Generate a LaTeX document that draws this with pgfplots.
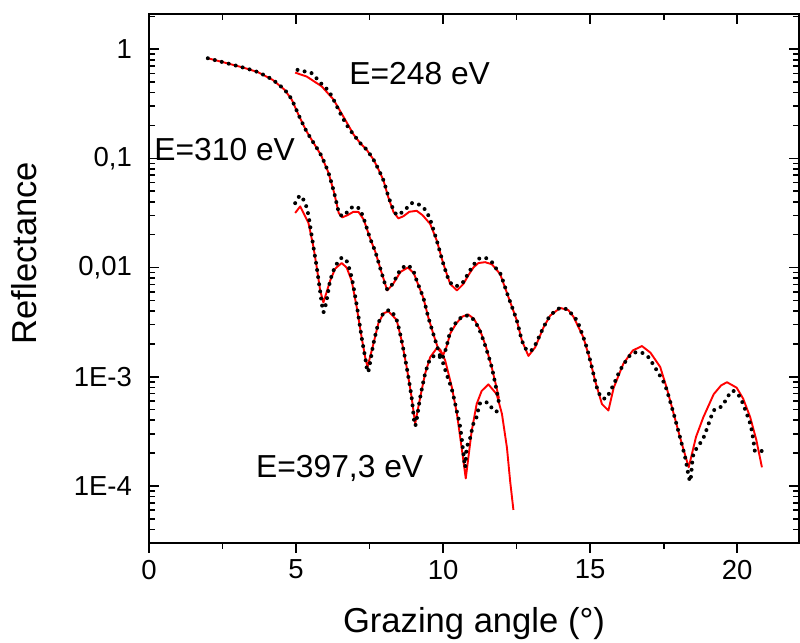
\documentclass[border=0pt]{standalone}
\usepackage{fontspec}
\setmainfont{Liberation Sans}
\usepackage{pgfplots}
\pgfplotsset{compat=1.18}

\pgfplotsset{
  refaxis/.style={
    width=325pt, height=264.5pt, scale only axis,
    xmin=0, xmax=22.1, ymin=3e-5, ymax=2.1,
    axis line style={line width=0.9pt},
    tick style={line width=0.8pt, black},
    major tick length=5pt, minor tick length=3pt,
    xtick={0,5,10,15,20}, minor x tick num=1,
    ytick={1e-4,1e-3,0.01,0.1,1},
    minor ytick={4e-5,5e-5,6e-5,7e-5,8e-5,9e-5,
      2e-4,3e-4,4e-4,5e-4,6e-4,7e-4,8e-4,9e-4,
      2e-3,3e-3,4e-3,5e-3,6e-3,7e-3,8e-3,9e-3,
      0.02,0.03,0.04,0.05,0.06,0.07,0.08,0.09,
      0.2,0.3,0.4,0.5,0.6,0.7,0.8,0.9,2},
  },
  expdots/.style={black, line width=2pt, line cap=round,
    dash pattern=on 0pt off 3.6pt, smooth, tension=0.4},
  fitline/.style={red, line width=0.95pt, line join=round},
}

\begin{document}
\begin{tikzpicture}
\begin{semilogyaxis}[refaxis,
  xtick pos=left, ytick pos=left, tick align=outside,
  y tick style={draw=none},
  xticklabels={0,5,10,15,20},
  yticklabels={1E-4,1E-3,{0,01},{0,1},1},
  ticklabel style={font=\fontsize{13.75}{16}\selectfont},
  xlabel={Grazing angle (°)},
  xlabel style={at={(axis description cs:0.5,-0.1701)}, anchor=base,
    inner sep=0pt, font=\fontsize{17.3}{20}\selectfont},
  ylabel={Reflectance},
  ylabel style={at={(axis description cs:-0.1723,0.548)}, anchor=base,
    inner sep=0pt, font=\fontsize{17.3}{20}\selectfont},
]
% E = 310 eV, fit
\addplot[fitline] table {
2.00 0.826
2.60 0.750
3.20 0.679
3.70 0.617
4.20 0.525
4.60 0.427
4.85 0.347
5.10 0.245
5.35 0.178
5.60 0.138
5.85 0.107
6.10 0.0741
6.30 0.0479
6.45 0.0316
6.57 0.0288
6.75 0.0302
6.95 0.0324
7.12 0.0324
7.30 0.0275
7.50 0.0191
7.70 0.0138
7.90 0.00912
8.10 0.00617
8.30 0.00708
8.55 0.00912
8.80 0.0100
9.00 0.00891
9.10 0.00759
9.33 0.00525
9.50 0.00347
9.67 0.00245
9.84 0.00178
10.00 0.00158
10.10 0.00182
10.25 0.00251
10.45 0.00309
10.65 0.00355
10.85 0.00372
11.05 0.00339
11.25 0.00269
11.45 0.00191
11.65 0.00123
11.80 0.000832
11.90 0.000631
};
% E = 248 eV, fit
\addplot[fitline] table {
4.97 0.610
5.36 0.562
5.87 0.457
6.27 0.347
6.72 0.214
6.95 0.166
7.18 0.138
7.40 0.120
7.63 0.0977
7.80 0.0794
7.97 0.0631
8.14 0.0437
8.31 0.0324
8.48 0.0282
8.65 0.0295
8.85 0.0324
9.10 0.0331
9.30 0.0302
9.56 0.0251
9.78 0.0178
10.00 0.0110
10.24 0.00708
10.47 0.00617
10.69 0.00708
10.86 0.00851
11.03 0.0100
11.20 0.0110
11.43 0.0112
11.66 0.0107
11.94 0.00871
12.22 0.00537
12.50 0.00331
12.68 0.00214
12.90 0.00155
13.13 0.00186
13.41 0.00282
13.64 0.00363
13.98 0.00427
14.26 0.00407
14.43 0.00355
14.77 0.00229
15.00 0.00141
15.17 0.000912
15.40 0.000562
15.62 0.000490
15.80 0.000794
16.13 0.00132
16.45 0.00174
16.76 0.00191
17.05 0.00166
17.38 0.00123
17.60 0.000794
17.84 0.000457
18.06 0.000275
18.35 0.000148
18.60 0.000282
18.85 0.000427
19.20 0.000692
19.45 0.000832
19.65 0.000891
19.98 0.000794
20.20 0.000631
20.44 0.000427
20.65 0.000263
20.84 0.000148
};
% E = 397.3 eV, fit
\addplot[fitline] table {
4.97 0.0316
5.14 0.0363
5.42 0.0257
5.59 0.0155
5.70 0.0102
5.82 0.00617
5.93 0.00479
6.16 0.00759
6.33 0.00977
6.55 0.0110
6.72 0.0100
6.89 0.00759
7.06 0.00437
7.23 0.00229
7.35 0.00151
7.43 0.00123
7.63 0.00200
7.80 0.00309
7.97 0.00380
8.14 0.00398
8.42 0.00331
8.59 0.00214
8.76 0.00123
8.93 0.000646
9.05 0.000372
9.22 0.000646
9.39 0.00107
9.56 0.00151
9.78 0.00182
9.90 0.00178
10.07 0.00141
10.30 0.000794
10.47 0.000457
10.63 0.000224
10.77 0.000117
10.97 0.000316
11.14 0.000562
11.31 0.000741
11.54 0.000851
11.82 0.000692
12.00 0.000457
12.17 0.000224
12.28 0.000110
12.39 0.0000603
};
% E = 310 eV, measured
\addplot[expdots] table {
2.00 0.826
2.60 0.750
3.20 0.679
3.70 0.617
4.20 0.525
4.60 0.427
4.85 0.347
5.10 0.245
5.35 0.178
5.60 0.138
5.85 0.107
6.10 0.0741
6.30 0.0479
6.45 0.0324
6.58 0.0295
6.75 0.0324
6.95 0.0363
7.15 0.0347
7.30 0.0282
7.50 0.0191
7.70 0.0138
7.90 0.00912
8.10 0.00631
8.30 0.00724
8.55 0.00955
8.80 0.0105
9.00 0.00912
9.10 0.00759
9.33 0.00525
9.50 0.00347
9.67 0.00245
9.84 0.00174
9.95 0.00145
10.10 0.00182
10.25 0.00263
10.45 0.00316
10.65 0.00355
10.85 0.00363
11.05 0.00331
11.25 0.00263
11.45 0.00186
11.65 0.00123
11.80 0.000794
11.90 0.000575
};
% E = 248 eV, measured
\addplot[expdots] table {
5.05 0.646
5.31 0.624
5.53 0.603
5.87 0.479
6.10 0.417
6.27 0.347
6.47 0.269
6.61 0.229
6.78 0.191
6.95 0.166
7.18 0.138
7.40 0.120
7.63 0.0977
7.80 0.0794
7.97 0.0631
8.14 0.0447
8.31 0.0339
8.45 0.0302
8.71 0.0339
8.93 0.0389
9.16 0.0380
9.39 0.0339
9.56 0.0275
9.78 0.0178
10.00 0.0110
10.20 0.00759
10.38 0.00676
10.55 0.00692
10.69 0.00741
10.86 0.00891
11.03 0.0105
11.20 0.0120
11.43 0.0123
11.66 0.0112
11.83 0.00955
11.94 0.00891
12.22 0.00537
12.50 0.00331
12.68 0.00214
12.85 0.00174
13.00 0.00174
13.13 0.00195
13.41 0.00282
13.64 0.00363
13.98 0.00427
14.26 0.00407
14.43 0.00355
14.55 0.00331
14.77 0.00229
14.88 0.00186
15.00 0.00141
15.17 0.000912
15.23 0.000794
15.37 0.000646
15.50 0.000631
15.57 0.000646
15.80 0.000851
16.02 0.00115
16.30 0.00151
16.47 0.00166
16.76 0.00166
16.98 0.00151
17.26 0.00115
17.55 0.000832
17.84 0.000457
18.06 0.000275
18.23 0.000182
18.40 0.000110
18.51 0.000195
18.85 0.000275
19.20 0.000490
19.48 0.000537
19.82 0.000741
20.10 0.000646
20.44 0.000372
20.56 0.000251
20.60 0.000209
20.84 0.000209
};
% E = 397.3 eV, measured
\addplot[expdots] table {
4.97 0.0389
5.14 0.0457
5.31 0.0389
5.42 0.0302
5.59 0.0155
5.70 0.0102
5.82 0.00603
5.93 0.00389
6.04 0.00501
6.16 0.00759
6.33 0.0102
6.55 0.0123
6.72 0.0115
6.89 0.00813
7.06 0.00457
7.23 0.00229
7.35 0.00151
7.45 0.00110
7.63 0.00200
7.80 0.00309
7.97 0.00380
8.20 0.00407
8.42 0.00331
8.59 0.00214
8.76 0.00123
8.93 0.000646
9.05 0.000355
9.22 0.000646
9.39 0.00107
9.56 0.00145
9.78 0.00158
9.95 0.00145
10.12 0.00105
10.30 0.000759
10.46 0.000490
10.58 0.000347
10.69 0.000200
10.75 0.000148
10.80 0.000224
10.91 0.000269
11.03 0.000372
11.14 0.000427
11.26 0.000575
11.54 0.000575
11.71 0.000490
11.92 0.000479
};
\node[anchor=base west, inner sep=0pt, font=\fontsize{15.9}{18}\selectfont]
  at (axis cs:6.80,0.471) {E=248 eV};
\node[anchor=base west, inner sep=0pt, font=\fontsize{15.9}{18}\selectfont]
  at (axis cs:0.17,0.0948) {E=310 eV};
\node[anchor=base west, inner sep=0pt, font=\fontsize{15.9}{18}\selectfont]
  at (axis cs:3.63,1.205e-4) {E=397,3 eV};
\end{semilogyaxis}
\begin{semilogyaxis}[refaxis, name=ax,
  xtick pos=right, ytick pos=both, tick align=inside,
  xticklabels={}, yticklabels={},
]
\end{semilogyaxis}
\pgfresetboundingbox
\path ([shift={(-74.5pt,-50pt)}]ax.south west)
  rectangle ([shift={(0.5pt,7pt)}]ax.north east);
\end{tikzpicture}
\end{document}
